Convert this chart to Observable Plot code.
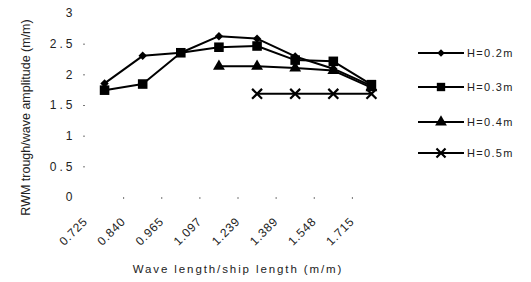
<!DOCTYPE html>
<html><head><meta charset="utf-8">
<script src="https://cdn.jsdelivr.net/npm/d3@7"></script>
<script src="https://cdn.jsdelivr.net/npm/@observablehq/plot@0.6"></script>
<style>
body{margin:0;background:#fff;}
#wrap{position:relative;width:531px;height:282px;font-family:"Liberation Sans",Arial,sans-serif;}
#legend{position:absolute;left:418px;top:0;width:113px;height:282px;}
.item{position:absolute;left:0;height:16px;display:flex;align-items:center;font-size:11px;letter-spacing:1.3px;color:#222;white-space:nowrap;}
.item svg{display:block;margin-right:3px;}
#wrap svg text{fill:#222;}
[aria-label="y-axis tick label"] text{letter-spacing:3px;}
[aria-label="x-axis tick label"] text{letter-spacing:0.8px;}
.xtitle{letter-spacing:1.9px;}
</style></head><body><div id="wrap"><div id="legend"></div></div>
<script>
// Categories (wave length / ship length)
const ratios = ["0.725","0.840","0.965","1.097","1.239","1.389","1.548","1.715"];
// Series values (RWM trough / wave amplitude)
const h02 = [1.86, 2.31, 2.36, 2.63, 2.59, 2.30, 2.10, 1.82];
const h03 = [1.75, 1.85, 2.36, 2.45, 2.47, 2.24, 2.22, 1.84];
const h04 = [null, null, null, 2.14, 2.14, 2.11, 2.07, 1.79];
const h05 = [null, null, null, null, 1.69, 1.69, 1.69, 1.69];
const seriesNames = ["H=0.2m","H=0.3m","H=0.4m","H=0.5m"];
const yTicks = [0, 0.5, 1, 1.5, 2, 2.5, 3];

const seriesVals = [h02, h03, h04, h05];
const symbols = ["diamond2", "square", "triangle", "times"];
const radii = [3.8, 5.4, 4.4, 4.6];

const data = [];
seriesVals.forEach((vals, s) => vals.forEach((v, i) => {
  if (v != null) data.push({series: seriesNames[s], i, v});
}));
const idx = d3.range(ratios.length);
const bounds = idx.slice(0, -1).map(i => i + 0.5);

const marks = [
  Plot.axisX({ticks: bounds, tickSize: 2, tickFormat: () => "", stroke: "#777", label: null}),
  Plot.axisX({ticks: idx, tickSize: 0, tickPadding: 22, tickRotate: -45, dx: -19,
              tickFormat: i => ratios[i], fontSize: 12, label: null}),
  Plot.axisY({ticks: yTicks.filter(t => t > 0 && t < 3), tickSize: 2, tickFormat: () => "", stroke: "#777", label: null}),
  Plot.axisY({ticks: yTicks, tickSize: 0, tickPadding: 10, tickFormat: d => String(d), fontSize: 12, label: null}),
  Plot.text(["RWM trough/wave amplitude (m/m)"], {frameAnchor: "left", textAnchor: "middle", rotate: -90, dx: -60, dy: 12, fontSize: 12.5, text: d => d}),
  Plot.text(["Wave length/ship length (m/m)"], {frameAnchor: "bottom", dy: 75, fontSize: 11.5, text: d => d, className: "xtitle"})
];
seriesNames.forEach((name, s) => {
  const sub = data.filter(d => d.series === name);
  marks.push(Plot.line(sub, {x: "i", y: "v", stroke: "#000", strokeWidth: 2}));
  if (symbols[s] === "times") {
    marks.push(Plot.dot(sub, {x: "i", y: "v", symbol: "times", r: radii[s], stroke: "#000", strokeWidth: 2.2}));
  } else {
    marks.push(Plot.dot(sub, {x: "i", y: "v", symbol: symbols[s], r: radii[s], fill: "#000", stroke: "none"}));
  }
});

const chart = Plot.plot({
  width: 531, height: 282,
  marginLeft: 85, marginRight: 141, marginTop: 13, marginBottom: 85,
  style: {fontFamily: '"Liberation Sans", Arial, sans-serif', background: "#fff", overflow: "visible"},
  x: {type: "linear", domain: [-0.5, ratios.length - 0.5], axis: null},
  y: {domain: [0, 3], axis: null},
  marks
});
document.getElementById("wrap").prepend(chart);

// Legend (HTML, absolutely positioned on the right)
const legend = document.getElementById("legend");
const legendTops = [45, 79, 114, 145];
const legendSym = {diamond2: d3.symbolDiamond2, square: d3.symbolSquare, triangle: d3.symbolTriangle, times: d3.symbolTimes};
const legendSizes = [36, 70, 60, 55];
seriesNames.forEach((name, s) => {
  const item = document.createElement("div");
  item.className = "item";
  item.style.top = legendTops[s] + "px";
  const path = d3.symbol(legendSym[symbols[s]], legendSizes[s])();
  const isTimes = symbols[s] === "times";
  item.innerHTML = `<svg width="46" height="16"><line x1="0" x2="46" y1="8" y2="8" stroke="#000" stroke-width="2"/>` +
    `<path transform="translate(23,8)" d="${path}" ${isTimes ? 'fill="none" stroke="#000" stroke-width="2.2"' : 'fill="#000"'}/></svg><span>${name}</span>`;
  legend.appendChild(item);
});
</script></body></html>
